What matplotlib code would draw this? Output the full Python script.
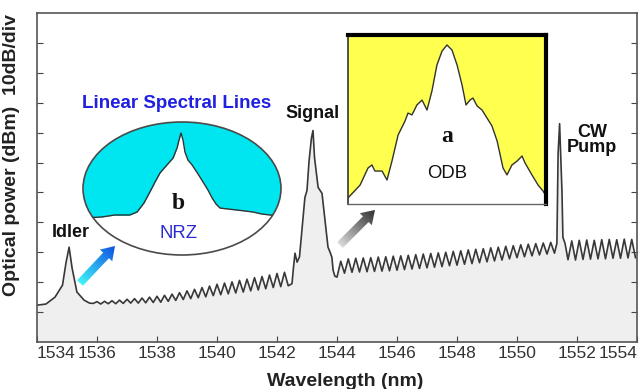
import numpy as np
import matplotlib
matplotlib.use('Agg')
import matplotlib.pyplot as plt
from matplotlib.patches import Ellipse, Polygon
from matplotlib.colors import LinearSegmentedColormap

plt.rcParams['font.family'] = ['Liberation Sans', 'DejaVu Sans']

# ---------------- data ----------------
x_ticks = [1534, 1536, 1538, 1540, 1542, 1544, 1546, 1548, 1550, 1552, 1554]
y_ticks = [1, 2, 3, 4, 5, 6, 7, 8, 9, 10]   # 10 dB/div, unlabeled

idler_wl = [1534.0, 1534.3, 1534.6, 1534.85, 1534.97, 1535.07, 1535.17, 1535.33, 1535.57, 1535.75]
idler_lv = [1.23, 1.27, 1.5, 1.9, 2.67, 3.17, 2.47, 1.67, 1.4, 1.3]

rippleA_start, ripple_step = 1535.875, 0.125
rippleA_lv = [1.29, 1.35, 1.27, 1.36, 1.28, 1.38, 1.28, 1.40, 1.29, 1.43, 1.30, 1.45, 1.30, 1.47,
              1.31, 1.50, 1.32, 1.53, 1.33, 1.56, 1.36, 1.60, 1.39, 1.65, 1.42, 1.71, 1.45, 1.76,
              1.48, 1.82, 1.51, 1.87, 1.55, 1.93, 1.58, 1.97, 1.61, 2.01, 1.64, 2.06, 1.67, 2.10,
              1.71, 2.15, 1.74, 2.19, 1.78, 2.24, 1.82, 2.29, 1.85, 2.33, 1.88]

signal_wl = [1542.5, 1542.55, 1542.6, 1542.67, 1542.75, 1542.83, 1542.93, 1543.0, 1543.07, 1543.15,
             1543.2, 1543.25, 1543.37, 1543.5, 1543.6, 1543.7, 1543.77, 1543.83, 1543.87, 1543.93, 1544.0]
signal_lv = [1.95, 2.5, 2.97, 2.67, 2.85, 3.73, 4.83, 5.07, 6.07, 6.83,
             7.07, 6.17, 5.17, 4.97, 4.07, 3.17, 3.0, 2.83, 2.4, 2.2, 2.17]

rippleB_start = 1544.125
rippleB_lv = [2.70, 2.30, 2.78, 2.33, 2.80, 2.34, 2.81, 2.35, 2.82, 2.36, 2.84, 2.37, 2.85, 2.38,
              2.87, 2.40, 2.88, 2.42, 2.90, 2.44, 2.92, 2.46, 2.94, 2.48, 2.96, 2.50, 2.98, 2.52,
              3.00, 2.55, 3.03, 2.57, 3.05, 2.60, 3.08, 2.62, 3.10, 2.65, 3.12, 2.68, 3.15, 2.71,
              3.17, 2.74, 3.20, 2.78, 3.22, 2.82, 3.25, 2.85, 3.27, 2.88, 3.29, 2.91, 3.31, 2.94,
              3.33, 2.97]

pump_wl = [1551.33, 1551.37, 1551.42, 1551.46, 1551.5, 1551.53, 1551.6]
pump_lv = [3.3, 6.3, 7.3, 6.2, 5.0, 3.5, 3.3]

rippleC_start = 1551.7
rippleC_lv = [2.75, 3.38, 2.74, 3.40, 2.76, 3.41, 2.77, 3.40, 2.78, 3.42, 2.78, 3.43, 2.80, 3.42,
              2.80, 3.44, 2.81, 3.43, 2.82]

# inset a (ODB spectrum), normalized offset / level
odb_x = [0, .061, .101, .121, .136, .172, .197, .222, .253, .288, .303, .323, .348, .374, .399,
         .424, .449, .475, .500, .525, .551, .576, .596, .616, .631, .652, .677, .702, .727, .753,
         .783, .803, .828, .854, .879, .894, .929, .960, .985, 1.0]
odb_y = [.036, .112, .213, .231, .195, .195, .142, .254, .408, .491, .538, .527, .586, .615, .556,
         .669, .822, .905, .941, .911, .822, .704, .586, .615, .627, .580, .556, .509, .462, .373,
         .213, .172, .231, .254, .284, .243, .172, .112, .077, .047]

# inset b (NRZ spectrum), normalized offset / level
nrz_x = [0, .096, .162, .237, .273, .308, .338, .364, .389, .424, .455, .475, .485, .495, .505,
         .515, .530, .551, .581, .606, .631, .652, .672, .692, .732, .778, .818, .859, .904, .944, 1.0]
nrz_y = [.278, .286, .301, .301, .323, .391, .474, .549, .617, .677, .729, .805, .865, .917, .865,
         .774, .714, .677, .609, .549, .489, .429, .383, .353, .346, .338, .331, .323, .308, .301, .293]

# ---------------- assemble spectrum ----------------
def grid(start, n):
    return start + ripple_step * np.arange(n)

wl = np.concatenate([idler_wl, grid(rippleA_start, len(rippleA_lv)), signal_wl,
                     grid(rippleB_start, len(rippleB_lv)), pump_wl,
                     grid(rippleC_start, len(rippleC_lv))])
lv = np.concatenate([idler_lv, rippleA_lv, signal_lv, rippleB_lv, pump_lv, rippleC_lv])

W, H = 639, 389
fig = plt.figure(figsize=(W / 100, H / 100), dpi=100)

ax = fig.add_axes([37 / W, 47 / H, 600 / W, 329 / H])
ax.fill_between(wl, lv, 0, color='#efefef', lw=0)
ax.plot(wl, lv, color='#383838', lw=1.2)
ax.set_xlim(1534, 1554)
ax.set_ylim(0, 11)
ax.set_yticks(y_ticks)
ax.set_yticklabels([])
ax.set_xticks(x_ticks)
ax.set_xticklabels([str(t) for t in x_ticks])
ax.tick_params(axis='y', direction='in', left=True, right=True, length=4, color='#444')
ax.tick_params(axis='x', direction='in', length=4, labelsize=12.5, labelcolor='#333', color='#444', pad=3)
labs = ax.get_xticklabels()
labs[0].set_ha('left')
labs[-1].set_ha('right')
for s in ax.spines.values():
    s.set_color('#555')
    s.set_linewidth(1.2)
ax.set_xlabel('Wavelength (nm)', fontsize=14, fontweight='bold', color='#222', labelpad=1)
ax.xaxis.set_label_coords(0.513, -0.095)
ax.set_ylabel('Optical power (dBm)  10dB/div', fontsize=14, fontweight='bold', color='#222')
ax.yaxis.set_label_coords(-0.028, 0.568)

# ---------------- inset b : ellipse ----------------
cyan = '#00E6F0'
axb = fig.add_axes([83 / W, (H - 255) / H, 198 / W, 133 / H])
axb.set_xlim(0, 1)
axb.set_ylim(0, 1)
axb.axis('off')
ell = Ellipse((0.5, 0.5), 1, 1, fc='white', ec='none')
axb.add_patch(ell)
fb = axb.fill_between(nrz_x, nrz_y, 1.05, color=cyan, lw=0)
fb.set_clip_path(ell)
ln, = axb.plot(nrz_x, nrz_y, color='#333', lw=1.0)
ln.set_clip_path(ell)
axb.add_patch(Ellipse((0.5, 0.5), 1, 1, fc='none', ec='#4a4a4a', lw=1.2, clip_on=False))

# ---------------- inset a : yellow box ----------------
axa = fig.add_axes([348 / W, (H - 204) / H, 198 / W, 169 / H])
axa.set_facecolor('#FFFF50')
axa.set_xlim(0, 1)
axa.set_ylim(0, 1)
axa.fill_between(odb_x, odb_y, 0, color='white', lw=0)
axa.plot(odb_x, odb_y, color='#333', lw=1.0)
axa.set_xticks([])
axa.set_yticks([])
axa.spines['top'].set_linewidth(3)
axa.spines['top'].set_color('black')
axa.spines['right'].set_linewidth(3)
axa.spines['right'].set_color('black')
axa.spines['left'].set_linewidth(1.2)
axa.spines['left'].set_color('#333')
axa.spines['bottom'].set_linewidth(1.0)
axa.spines['bottom'].set_color('#666')

# ---------------- overlay: arrows & annotations ----------------
ov = fig.add_axes([0, 0, 1, 1])
ov.set_zorder(10)
ov.axis('off')


def grad_arrow(tail, tip, c0, c1, shaft=4.0, head=8.5, head_len=13):
    tail = np.array(tail, float)
    tip = np.array(tip, float)
    d = tip - tail
    L = np.hypot(*d)
    u = d / L
    n = np.array([-u[1], u[0]])
    base = tip - u * head_len
    pts = np.array([tail + n * shaft, base + n * shaft, base + n * head, tip,
                    base - n * head, base - n * shaft, tail - n * shaft])
    poly = Polygon(pts, closed=True, fc='none', ec='none')
    ov.add_patch(poly)
    x0, y0 = pts.min(axis=0) - 2
    x1, y1 = pts.max(axis=0) + 2
    X, Y = np.meshgrid(np.linspace(x0, x1, 80), np.linspace(y0, y1, 80))
    t = np.clip(((X - tail[0]) * u[0] + (Y - tail[1]) * u[1]) / L, 0, 1)
    cmap = LinearSegmentedColormap.from_list('g', [c0, c1])
    im = ov.imshow(t, extent=(x0, x1, y1, y0), origin='upper', cmap=cmap, vmin=0, vmax=1,
                   interpolation='bilinear', aspect='auto')
    im.set_clip_path(poly)


grad_arrow((80, 283), (115, 246), '#40F4FA', '#1050E0')
grad_arrow((340, 245), (375, 210), '#dadada', '#303030')
ov.set_xlim(0, W)
ov.set_ylim(H, 0)

bold = dict(fontweight='bold', ha='center', va='center')
ov.text(71, 232, 'Idler', fontsize=13, color='#111', **bold)
ov.text(313, 113, 'Signal', fontsize=13, color='#111', **bold)
ov.text(592, 140, 'CW\nPump', fontsize=13, color='#111', linespacing=0.85, **bold)
ov.text(177, 103, 'Linear Spectral Lines', fontsize=13.5, color='#2020E0', **bold)
ov.text(178, 203, 'b', fontsize=17, family='Liberation Serif', color='#111', **bold)
ov.text(179, 233, 'NRZ', fontsize=13.3, color='#2a2ad0', ha='center', va='center')
ov.text(447, 136, 'a', fontsize=17, family='Liberation Serif', color='#111', **bold)
ov.text(447, 173, 'ODB', fontsize=13.3, color='#111', ha='center', va='center')

fig.savefig('out.png', dpi=100)
